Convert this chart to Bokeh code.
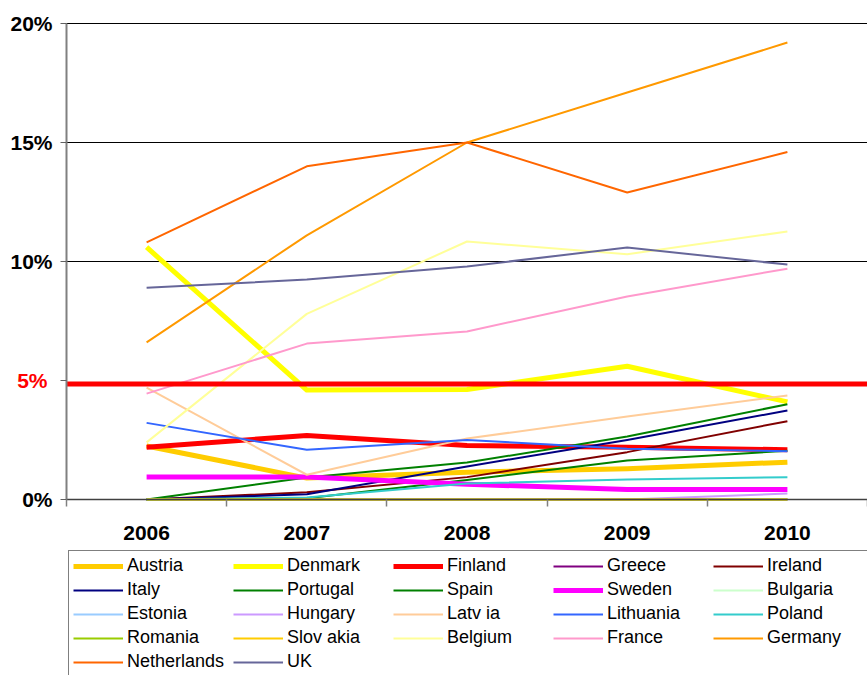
from bokeh.plotting import figure
from bokeh.models import Range1d, FixedTicker, Legend, LegendItem, Label
from bokeh.embed import file_html
from bokeh.resources import INLINE

years = ["2006", "2007", "2008", "2009", "2010"]

austria = [2.25, 0.9, 1.15, 1.29, 1.57]
denmark = [10.6, 4.6, 4.62, 5.6, 4.1]
finland = [2.2, 2.69, 2.27, 2.2, 2.09]
greece = [0, 0, 0, 0, 0]
ireland = [0, 0.3, 0.94, 1.99, 3.29]
italy = [0, 0.22, 1.39, 2.5, 3.74]
portugal = [0, 0.92, 1.55, 2.65, 4.0]
spain = [0, 0.05, 0.82, 1.64, 2.05]
sweden = [0.95, 0.95, 0.64, 0.42, 0.42]
bulgaria = [0, 0, 0, 0, 0]
estonia = [0, 0, 0, 0, 0]
hungary = [0, 0, 0, 0, 0.25]
latvia = [4.7, 1.04, 2.56, 3.49, 4.37]
lithuania = [3.22, 2.09, 2.5, 2.13, 2.03]
poland = [0, 0.08, 0.67, 0.84, 0.94]
romania = [0, 0, 0, 0, 0]
slovakia = [0, 0, 0, 0, 0]
belgium = [2.4, 7.8, 10.84, 10.3, 11.26]
france = [4.45, 6.55, 7.06, 8.53, 9.7]
germany = [6.6, 11.1, 15.0, 17.1, 19.2]
netherlands = [10.8, 14.0, 15.0, 12.9, 14.6]
uk = [8.9, 9.24, 9.79, 10.59, 9.87]

threshold = 4.85
threshold_label = "5%"
y_ticks = [0, 5, 10, 15, 20]
y_tick_labels = ["0%", "", "10%", "15%", "20%"]
grid_ticks = [10, 15, 20]

series = [
    ("Austria", austria, "#FFCC00", 5),
    ("Denmark", denmark, "#FFFF00", 5),
    ("Finland", finland, "#FF0000", 5),
    ("Greece", greece, "#800080", 2),
    ("Ireland", ireland, "#800000", 2),
    ("Italy", italy, "#000080", 2),
    ("Portugal", portugal, "#008000", 2),
    ("Spain", spain, "#008000", 2),
    ("Sweden", sweden, "#FF00FF", 5),
    ("Bulgaria", bulgaria, "#CCFFCC", 2),
    ("Estonia", estonia, "#99CCFF", 2),
    ("Hungary", hungary, "#CC99FF", 2),
    ("Latv ia", latvia, "#FFCC99", 2),
    ("Lithuania", lithuania, "#3366FF", 2),
    ("Poland", poland, "#33CCCC", 2),
    ("Romania", romania, "#99CC00", 2),
    ("Slov akia", slovakia, "#FFCC00", 2),
    ("Belgium", belgium, "#FFFF99", 2),
    ("France", france, "#FF99CC", 2),
    ("Germany", germany, "#FF9900", 2),
    ("Netherlands", netherlands, "#FF6600", 2),
    ("UK", uk, "#666699", 2),
]

xs = [i + 0.5 for i in range(len(years))]
bounds = [float(i) for i in range(len(years) + 1)]

# Layout in pixels: the frame covers the whole canvas; the axes are pinned at x=0 / y=0
W, H = 867, 675
LEFT, TOP, ZERO_Y = 66, 23, 499
px_per_y = (ZERO_Y - TOP) / y_ticks[-1]
y_min = -(H - ZERO_Y) / px_per_y
y_max = y_ticks[-1] + TOP / px_per_y
px_per_x = (W - LEFT) / len(years)
x_min = -LEFT / px_per_x

p = figure(width=W, height=H, x_range=Range1d(x_min, bounds[-1]), y_range=Range1d(y_min, y_max),
           output_backend="svg", toolbar_location=None,
           min_border_left=0, min_border_right=0, min_border_top=0, min_border_bottom=0)
p.outline_line_color = None
p.background_fill_color = "white"
p.border_fill_color = "white"
p.xgrid.visible = False
p.ygrid.visible = False

FONT = "Liberation Sans"

# x axis, drawn at y = 0
p.xaxis.fixed_location = 0
p.xaxis.bounds = (bounds[0], bounds[-1])
p.xaxis.ticker = FixedTicker(ticks=xs, minor_ticks=bounds)
p.xaxis.major_label_overrides = {x: y for x, y in zip(xs, years)}
p.xaxis.major_tick_out = 0
p.xaxis.major_tick_in = 0
p.xaxis.major_tick_line_color = None
p.xaxis.minor_tick_out = 7
p.xaxis.minor_tick_in = 0
p.xaxis.minor_tick_line_color = "#808080"
p.xaxis.minor_tick_line_width = 1.5
p.xaxis.axis_line_color = "#404040"
p.xaxis.axis_line_width = 1.5
p.xaxis.major_label_standoff = 19
p.xaxis.major_label_text_font = FONT
p.xaxis.major_label_text_font_size = "21px"
p.xaxis.major_label_text_font_style = "bold"
p.xaxis.major_label_text_color = "black"

# y axis, drawn at x = 0
p.yaxis.fixed_location = 0
p.yaxis.bounds = (y_ticks[0], y_ticks[-1])
p.yaxis.ticker = FixedTicker(ticks=y_ticks, minor_ticks=[])
p.yaxis.major_label_overrides = {t: l for t, l in zip(y_ticks, y_tick_labels)}
p.yaxis.major_tick_out = 6
p.yaxis.major_tick_in = 0
p.yaxis.major_tick_line_color = "#606060"
p.yaxis.axis_line_color = "#808080"
p.yaxis.axis_line_width = 2
p.yaxis.major_label_standoff = 8
p.yaxis.major_label_text_font = FONT
p.yaxis.major_label_text_font_size = "21px"
p.yaxis.major_label_text_font_style = "bold"
p.yaxis.major_label_text_color = "black"

# horizontal gridlines across the category area
n = len(grid_ticks)
p.segment(x0=[bounds[0]] * n, x1=[bounds[-1]] * n, y0=grid_ticks, y1=grid_ticks,
          line_color="black", line_width=1)

items = []
for name, vals, color, lw in series:
    r = p.line(xs, vals, line_color=color, line_width=lw, line_join="round")
    items.append(LegendItem(label=name, renderers=[r]))

# 5% threshold
p.segment(x0=[bounds[0]], x1=[bounds[-1]], y0=[threshold], y1=[threshold],
          line_color="#FF0000", line_width=5)
p.add_layout(Label(x=bounds[0], y=5, x_offset=-19, text=threshold_label,
                   text_align="right", text_baseline="middle", text_color="#FF0000",
                   text_font=FONT, text_font_size="21px", text_font_style="bold"))

legend = Legend(items=items, orientation="horizontal", ncols=5, location=(LEFT + 2, -2),
                glyph_width=50, glyph_height=20, label_standoff=4, label_width=103,
                label_height=21, spacing=3, padding=4, margin=0,
                border_line_color="black", border_line_width=1,
                background_fill_color="white", background_fill_alpha=1.0,
                label_text_font=FONT, label_text_font_size="18px", label_text_color="black")
p.add_layout(legend)

open("out.html", "w").write(file_html(p, INLINE))
